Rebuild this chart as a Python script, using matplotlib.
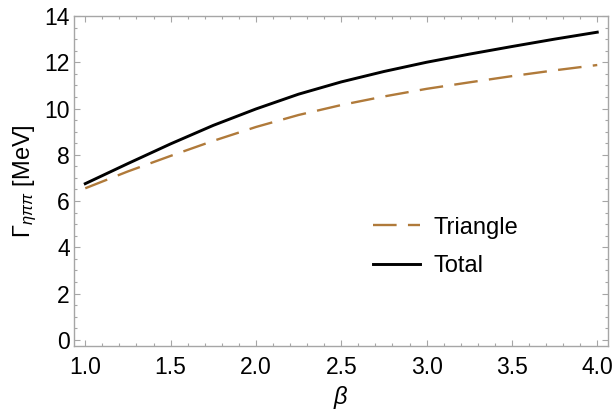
import numpy as np
import matplotlib
matplotlib.use("Agg")
import matplotlib.pyplot as plt
from matplotlib.ticker import MultipleLocator

# values
beta = [1.0, 1.25, 1.5, 1.75, 2.0, 2.25, 2.5, 2.75, 3.0, 3.25, 3.5, 3.75, 4.0]
total = [6.75, 7.62, 8.47, 9.27, 9.98, 10.62, 11.15, 11.6, 12.0, 12.35, 12.68, 13.0, 13.3]
triangle = [6.55, 7.28, 7.95, 8.6, 9.2, 9.72, 10.15, 10.52, 10.85, 11.13, 11.4, 11.65, 11.88]

plt.rcParams['font.family'] = ['Liberation Sans', 'DejaVu Sans']
plt.rcParams['mathtext.fontset'] = 'custom'
plt.rcParams['mathtext.rm'] = 'Liberation Sans'
plt.rcParams['mathtext.it'] = 'Liberation Sans:italic'

frame_col = '#a6a6a6'
brown = '#b07a3a'

fig = plt.figure(figsize=(6.15, 4.13), dpi=100)
ax = fig.add_axes([74 / 615, 1 - 346 / 413, 534 / 615, 330 / 413])

ax.plot(beta, triangle, color=brown, lw=1.7, dashes=(10, 4.8), label='Triangle')
ax.plot(beta, total, color='black', lw=2.1, label='Total')

ax.set_xlim(0.934, 4.063)
ax.set_ylim(-0.27, 14.0)
ax.xaxis.set_major_locator(MultipleLocator(0.5))
ax.xaxis.set_minor_locator(MultipleLocator(0.1))
ax.yaxis.set_major_locator(MultipleLocator(2))
ax.yaxis.set_minor_locator(MultipleLocator(0.5))
ax.xaxis.set_major_formatter(matplotlib.ticker.FormatStrFormatter('%.1f'))

for s in ax.spines.values():
    s.set_color(frame_col)
    s.set_linewidth(1.0)
ax.tick_params(which='both', direction='in', top=True, right=True, color=frame_col,
               labelsize=16.5, width=0.8)
ax.tick_params(which='major', length=4)
ax.tick_params(which='minor', length=2.2)
ax.tick_params(axis='x', which='major', pad=7)
ax.tick_params(axis='y', which='major', pad=3)

ax.set_xlabel(r'$\beta$', fontsize=17)
ax.set_ylabel(r'$\Gamma_{\eta\pi\pi}$ [MeV]', fontsize=17)
ax.xaxis.set_label_coords(0.5, -0.115)
ax.yaxis.set_label_coords(-0.065, 0.5)

ax.legend(loc='center left', bbox_to_anchor=(0.52, 0.30), frameon=False, fontsize=17,
          handlelength=2.0, handletextpad=0.55, labelspacing=0.7)

fig.savefig('out.png', dpi=100)
